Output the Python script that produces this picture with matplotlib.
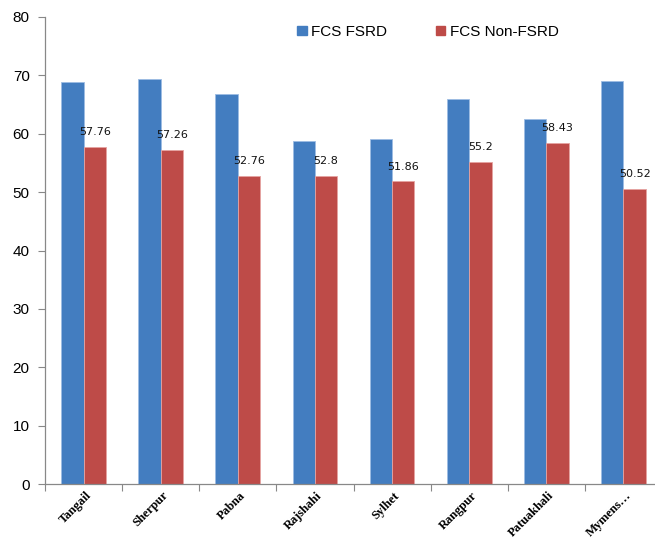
import matplotlib
matplotlib.use("Agg")
import matplotlib.pyplot as plt
import numpy as np
from matplotlib.patches import Patch

categories = ["Tangail", "Sherpur", "Pabna", "Rajshahi", "Sylhet", "Rangpur", "Patuakhali", "Mymens…"]
fsrd = [68.8, 69.3, 66.8, 58.8, 59.1, 65.9, 62.5, 69.0]
non_fsrd = [57.76, 57.26, 52.76, 52.8, 51.86, 55.2, 58.43, 50.52]
non_fsrd_labels = ["57.76", "57.26", "52.76", "52.8", "51.86", "55.2", "58.43", "50.52"]
series_names = ["FCS FSRD", "FCS Non-FSRD"]
yticks = [0, 10, 20, 30, 40, 50, 60, 70, 80]

blue = "#437DC0"
red = "#BE4B48"

W, H = 655, 539
fig = plt.figure(figsize=(W / 100, H / 100), dpi=100)
left, right, bottom, top = 45, 662, 484, 17
ax = fig.add_axes([left / W, (H - bottom) / H, (right - left) / W, (bottom - top) / H])

x = np.arange(len(categories))
bw = 0.29
ax.bar(x - bw / 2, fsrd, bw, color=blue, edgecolor="#9DBCE3", linewidth=0.6)
ax.bar(x + bw / 2, non_fsrd, bw, color=red, edgecolor="#E6A3A1", linewidth=0.6)

for xi, v, lab in zip(x, non_fsrd, non_fsrd_labels):
    ax.annotate(lab, (xi + bw / 2, v), xytext=(0, 7), textcoords="offset points",
                ha="center", va="bottom", fontsize=8, family="DejaVu Sans", color="#111111")

ax.set_xlim(-0.5, len(categories) - 0.5)
ax.set_ylim(0, 80)
ax.set_yticks(yticks)
ax.set_yticklabels([str(t) for t in yticks], fontsize=11, family="Liberation Sans")
ax.set_xticks(np.arange(len(categories) + 1) - 0.5)
ax.set_xticklabels([])
ax.set_xticks(x + 0.02, minor=True)
ax.set_xticklabels(categories, minor=True, rotation=45, ha="right", rotation_mode="anchor",
                   fontsize=9, family="Liberation Serif", fontweight="bold")
ax.tick_params(axis="x", which="minor", length=0, pad=4)
ax.tick_params(axis="x", which="major", length=5, direction="out", color="#888888")
ax.tick_params(axis="y", length=5, direction="out", color="#888888", pad=6)
for s in ["top", "right"]:
    ax.spines[s].set_visible(False)
for s in ["left", "bottom"]:
    ax.spines[s].set_color("#888888")
    ax.spines[s].set_linewidth(0.9)

handles = [Patch(color=blue), Patch(color=red)]
fig.legend(handles, series_names, loc="center", bbox_to_anchor=(428 / W, (H - 32) / H),
           ncol=2, frameon=False, prop={"family": "Liberation Sans", "size": 11},
           handlelength=0.6, handleheight=0.6, handletextpad=0.3, columnspacing=3.2)

fig.savefig("out.png", dpi=100)
